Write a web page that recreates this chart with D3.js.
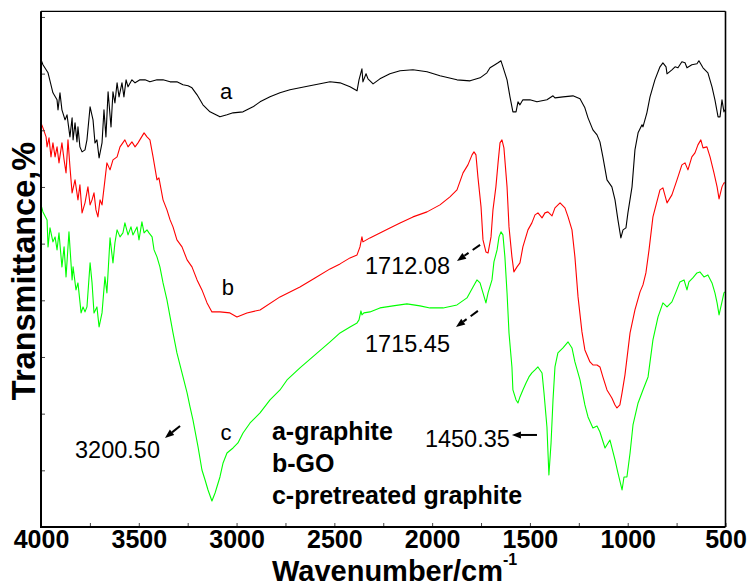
<!DOCTYPE html>
<html lang="en">
<head>
<meta charset="UTF-8">
<title>FTIR spectra</title>
<script src="https://d3js.org/d3.v7.min.js"></script>
<style>
  body { margin: 0; background: #fff; }
  svg { display: block; font-family: "Liberation Sans", Arial, sans-serif; }
</style>
</head>
<body>
<svg id="chart" width="749" height="583"></svg>
<script>
// [wavenumber (cm-1), transmittance (a.u.)]
const graphite = [
  [4000,93.4],[3990,92.4],[3964,90.8],[3939,86.8],[3918,85.4],[3913,83.4],[3903,86.8],[3893,83.4],
  [3877,81.4],[3867,82.4],[3852,78.0],[3841,81.8],[3836,77.4],[3826,80.8],[3816,77.0],[3811,80.0],
  [3801,76.0],[3790,75.0],[3775,75.4],[3765,77.4],[3749,84.0],[3734,81.4],[3724,76.8],[3714,77.4],
  [3703,73.8],[3688,76.8],[3678,83.4],[3668,78.0],[3657,87.0],[3642,80.0],[3632,87.0],[3622,84.8],
  [3611,88.8],[3601,86.0],[3586,88.8],[3576,86.0],[3565,89.4],[3555,88.0],[3535,89.4],[3519,88.8],
  [3494,89.4],[3468,89.4],[3443,89.0],[3407,89.4],[3376,89.4],[3340,89.0],[3305,89.0],[3274,88.4],
  [3248,88.2],[3228,87.8],[3202,86.4],[3172,84.4],[3136,83.0],[3085,82.0],[3049,82.4],[3018,82.8],
  [2967,83.0],[2916,84.0],[2880,85.0],[2829,86.0],[2778,86.8],[2727,87.4],[2676,87.8],[2625,88.2],
  [2573,88.6],[2522,89.0],[2471,88.8],[2420,88.0],[2384,87.2],[2374,89.4],[2359,91.6],[2354,89.0],
  [2338,90.6],[2328,89.6],[2302,88.6],[2267,89.6],[2216,90.6],[2164,91.2],[2098,91.4],[2026,91.0],
  [1960,90.2],[1873,89.4],[1806,89.2],[1755,89.8],[1720,90.8],[1704,91.8],[1679,92.4],[1663,92.8],
  [1648,93.2],[1638,92.0],[1617,89.4],[1602,86.0],[1587,83.0],[1571,83.0],[1561,85.0],[1551,84.4],
  [1536,85.4],[1500,85.4],[1464,85.0],[1413,85.4],[1382,86.2],[1372,85.8],[1331,86.0],[1280,86.2],
  [1244,85.6],[1219,83.8],[1203,81.8],[1178,79.4],[1157,78.4],[1142,77.0],[1127,74.0],[1106,69.4],
  [1081,68.0],[1065,65.4],[1050,61.4],[1035,57.8],[1024,59.4],[1009,59.8],[999,62.8],[978,68.0],
  [963,75.4],[947,78.8],[927,80.4],[922,80.0],[902,82.8],[886,86.0],[861,89.4],[835,92.0],
  [820,92.8],[804,92.0],[799,90.6],[774,91.4],[758,92.0],[743,91.8],[723,93.0],[707,92.8],
  [697,91.8],[672,92.4],[646,92.6],[636,93.2],[615,91.8],[590,90.8],[569,88.0],[554,85.4],
  [538,82.0],[528,82.0],[518,85.4],[508,83.0],[503,83.4]
];

const grapheneOxide = [
  [4000,80.8],[3990,79.8],[3974,78.0],[3969,76.0],[3959,77.8],[3949,74.0],[3939,76.8],[3928,74.0],
  [3918,76.0],[3908,72.8],[3893,76.8],[3882,73.4],[3872,70.8],[3862,77.4],[3852,72.0],[3841,66.8],
  [3826,69.4],[3811,65.4],[3801,68.4],[3790,62.8],[3775,64.8],[3760,68.0],[3749,64.4],[3739,65.4],
  [3729,66.8],[3719,63.4],[3709,62.0],[3698,65.4],[3688,64.4],[3673,69.4],[3663,72.8],[3647,71.4],
  [3632,73.4],[3611,74.0],[3596,76.0],[3571,77.4],[3555,76.0],[3535,77.0],[3519,76.0],[3504,76.8],
  [3473,78.8],[3458,78.0],[3443,77.4],[3427,74.0],[3407,69.4],[3397,69.8],[3376,65.4],[3356,63.4],
  [3340,61.4],[3325,60.0],[3305,57.4],[3279,56.0],[3253,53.4],[3228,52.0],[3202,49.4],[3177,47.4],
  [3151,44.8],[3126,43.0],[3085,43.0],[3034,42.8],[2998,42.0],[2947,42.8],[2880,43.4],[2778,46.0],
  [2676,48.0],[2599,49.8],[2522,51.6],[2471,52.6],[2420,53.8],[2384,54.4],[2369,56.0],[2359,58.0],
  [2354,57.0],[2318,57.8],[2267,58.8],[2216,59.8],[2164,60.8],[2098,62.0],[2026,63.0],[1960,64.4],
  [1909,66.0],[1873,67.4],[1842,70.8],[1817,72.4],[1796,74.4],[1786,75.0],[1776,74.4],[1766,70.0],
  [1750,64.0],[1740,57.4],[1725,55.0],[1714,54.8],[1699,58.0],[1689,63.4],[1674,68.0],[1663,72.8],
  [1653,76.8],[1643,77.4],[1633,75.8],[1617,68.0],[1607,60.0],[1592,54.0],[1582,51.0],[1566,52.0],
  [1551,52.8],[1536,56.0],[1510,59.4],[1490,60.8],[1474,62.4],[1459,62.8],[1438,61.8],[1423,62.8],
  [1408,63.0],[1387,62.2],[1372,63.8],[1346,64.8],[1321,63.8],[1305,62.0],[1285,59.4],[1270,54.0],
  [1254,46.0],[1234,39.0],[1219,35.4],[1193,33.0],[1178,32.4],[1157,32.4],[1142,32.0],[1127,30.0],
  [1106,27.4],[1081,25.8],[1065,24.4],[1055,23.8],[1040,24.4],[1029,26.8],[1014,30.4],[988,38.8],
  [963,43.4],[937,47.0],[922,48.4],[907,50.8],[891,55.4],[871,62.0],[835,67.4],[820,67.8],
  [799,64.8],[774,66.4],[748,69.4],[723,72.4],[707,72.8],[692,71.4],[672,74.0],[656,74.8],
  [641,76.4],[626,77.4],[615,75.8],[595,76.0],[579,74.0],[559,70.8],[543,68.0],[533,65.6],
  [518,68.0],[508,68.8],[503,68.8]
];

const pretreated = [
  [4000,64.4],[3990,63.0],[3969,61.4],[3964,56.0],[3954,59.8],[3939,57.0],[3928,58.0],[3918,55.4],
  [3908,58.8],[3893,52.0],[3882,56.0],[3872,50.0],[3857,59.0],[3841,49.4],[3836,52.0],[3821,47.4],
  [3811,48.8],[3795,42.8],[3785,44.0],[3775,43.0],[3765,44.0],[3749,52.8],[3739,48.8],[3729,42.8],
  [3714,44.0],[3703,40.0],[3688,42.8],[3673,50.0],[3663,46.8],[3647,57.8],[3632,52.8],[3622,56.8],
  [3611,59.4],[3596,58.0],[3581,58.8],[3571,60.8],[3555,58.4],[3540,60.0],[3530,58.4],[3509,60.0],
  [3499,57.4],[3484,61.0],[3473,58.8],[3458,59.4],[3448,58.8],[3432,58.0],[3422,55.4],[3407,54.0],
  [3392,52.0],[3376,48.8],[3356,45.4],[3340,42.0],[3325,38.8],[3305,34.8],[3279,30.8],[3253,26.8],
  [3238,24.0],[3223,21.4],[3197,16.0],[3177,11.4],[3161,9.4],[3146,7.4],[3126,5.2],[3110,6.8],
  [3085,10.0],[3069,12.8],[3049,14.8],[3018,15.8],[2993,16.8],[2967,18.8],[2931,20.8],[2880,22.8],
  [2829,25.4],[2778,27.4],[2742,29.4],[2676,31.8],[2599,34.4],[2522,37.0],[2471,38.8],[2420,40.0],
  [2384,40.8],[2374,41.4],[2364,43.2],[2359,42.4],[2349,42.8],[2318,43.0],[2267,43.8],[2200,44.2],
  [2129,44.6],[2062,44.2],[2011,43.8],[1944,43.8],[1873,44.4],[1822,45.8],[1791,48.0],[1771,49.4],
  [1755,48.8],[1740,46.8],[1725,44.8],[1714,46.8],[1694,49.4],[1684,53.0],[1668,55.4],[1658,58.0],
  [1648,59.0],[1638,58.4],[1628,54.0],[1617,46.8],[1607,38.8],[1592,32.0],[1587,27.4],[1571,25.4],
  [1561,24.8],[1551,26.0],[1536,27.4],[1520,28.8],[1505,30.0],[1490,30.8],[1474,31.4],[1459,32.0],
  [1438,30.8],[1428,26.8],[1413,20.0],[1403,10.4],[1392,16.8],[1382,25.4],[1372,32.0],[1357,34.8],
  [1331,35.8],[1305,37.0],[1285,35.8],[1270,33.0],[1244,29.4],[1219,24.4],[1203,22.0],[1178,19.8],
  [1157,20.2],[1142,19.0],[1116,15.8],[1091,17.4],[1065,13.4],[1050,10.8],[1029,7.4],[1019,10.0],
  [1004,10.0],[988,14.8],[973,20.4],[947,24.8],[922,27.4],[896,30.0],[871,37.4],[845,42.0],
  [820,44.8],[799,44.0],[774,45.0],[753,47.0],[733,49.0],[712,49.4],[697,47.4],[687,49.0],
  [667,49.8],[646,50.8],[631,51.0],[610,50.0],[590,50.4],[569,48.8],[554,46.8],[543,44.8],
  [533,42.4],[518,45.0],[508,46.8],[503,47.0]
];

const xTickValues = d3.range(500, 4001, 250);
const yTickValues = d3.range(1, 10).map(i => i * 11.33);

const curveLabels = [
  { text: "a", w: 3054, v: 85.6 },
  { text: "b", w: 3044, v: 46.4 },
  { text: "c", w: 3054, v: 17.4 }
];
const peakLabels = [
  { text: "3200.50", w: 3826, v: 13.8 },
  { text: "1712.08", w: 2343, v: 50.6 },
  { text: "1715.45", w: 2343, v: 35.0 },
  { text: "1450.35", w: 2037, v: 16.0 }
];
// tail -> head
const arrows = [
  { from: [3289, 20.2], to: [3366, 17.8], dashed: false },
  { from: [1755, 56.4], to: [1873, 53.2], dashed: true },
  { from: [1766, 43.2], to: [1878, 40.0], dashed: true },
  { from: [1464, 18.4], to: [1592, 18.4], dashed: false }
];
const legendItems = ["a-graphite", "b-GO", "c-pretreated graphite"];

const margin = { top: 11.3, right: 23.5, bottom: 56, left: 41 };
const W = 749, H = 583;
const svg = d3.select("#chart");

const x = d3.scaleLinear().domain([4000, 500]).range([margin.left, W - margin.right]);
const y = d3.scaleLinear().domain([0, 103.1]).range([H - margin.bottom, margin.top]);

const series = [
  { data: graphite, color: "#000000" },
  { data: grapheneOxide, color: "#ff0000" },
  { data: pretreated, color: "#00ff00" }
];

const line = d3.line().x(d => x(d[0])).y(d => y(d[1]));

svg.selectAll("path.spectrum")
  .data(series)
  .join("path")
  .attr("class", "spectrum")
  .attr("d", d => line(d.data))
  .attr("fill", "none")
  .attr("stroke", d => d.color)
  .attr("stroke-width", 1.1)
  .attr("stroke-linejoin", "round");

// axes
const xAxis = svg.append("g")
  .attr("transform", `translate(0,${H - margin.bottom})`)
  .call(d3.axisBottom(x).tickValues(xTickValues).tickSize(-4).tickSizeOuter(0)
    .tickFormat(d => d % 500 === 0 ? d : ""));
xAxis.select(".domain").remove();
xAxis.selectAll("line").attr("stroke", "#444");
xAxis.selectAll("text")
  .attr("font-size", 25).attr("font-weight", "bold").attr("fill", "#000")
  .attr("font-family", "Liberation Sans, Arial, sans-serif");

const yAxis = svg.append("g")
  .attr("transform", `translate(${margin.left},0)`)
  .call(d3.axisLeft(y).tickValues(yTickValues).tickSize(-4).tickSizeOuter(0).tickFormat(""));
yAxis.select(".domain").remove();
yAxis.selectAll("line").attr("stroke", "#444");

// frame
const x0 = margin.left, x1 = W - margin.right, y0 = margin.top, y1 = H - margin.bottom;
svg.append("line").attr("x1", x0).attr("x2", x1).attr("y1", y0).attr("y2", y0)
  .attr("stroke", "#000").attr("stroke-width", 1.2);
svg.append("line").attr("x1", x1).attr("x2", x1).attr("y1", y0).attr("y2", y1)
  .attr("stroke", "#000").attr("stroke-width", 1.6);
svg.append("line").attr("x1", x0).attr("x2", x0).attr("y1", y0).attr("y2", y1 + 1)
  .attr("stroke", "#000").attr("stroke-width", 2);
svg.append("line").attr("x1", x0 - 1).attr("x2", x1).attr("y1", y1).attr("y2", y1)
  .attr("stroke", "#000").attr("stroke-width", 2);

// axis titles
const xt = svg.append("text")
  .attr("x", 272).attr("y", 581)
  .attr("font-size", 29).attr("font-weight", "bold");
xt.append("tspan").text("Wavenumber/cm");
xt.append("tspan").attr("font-size", 16).attr("dy", -16).text("-1");

svg.append("text")
  .attr("transform", "translate(35,271) rotate(-90)")
  .attr("text-anchor", "middle")
  .attr("font-size", 32.5).attr("font-weight", "bold")
  .text("Transmittance,%");

// annotations
svg.selectAll("text.curve")
  .data(curveLabels)
  .join("text")
  .attr("class", "curve")
  .attr("x", d => x(d.w)).attr("y", d => y(d.v))
  .attr("text-anchor", "middle")
  .attr("font-size", 22)
  .text(d => d.text);

svg.selectAll("text.peak")
  .data(peakLabels)
  .join("text")
  .attr("class", "peak")
  .attr("x", d => x(d.w)).attr("y", d => y(d.v))
  .attr("font-size", 23.5)
  .text(d => d.text);

arrows.forEach(a => {
  const tx = x(a.from[0]), ty = y(a.from[1]);
  const hx = x(a.to[0]), hy = y(a.to[1]);
  const ang = Math.atan2(hy - ty, hx - tx);
  const len = 9, half = 3.5;
  const bx = hx - len * Math.cos(ang), by = hy - len * Math.sin(ang);
  svg.append("line")
    .attr("x1", tx).attr("y1", ty).attr("x2", bx).attr("y2", by)
    .attr("stroke", "#000").attr("stroke-width", 2)
    .attr("stroke-dasharray", a.dashed ? "9,5" : null);
  const px = -Math.sin(ang) * half, py = Math.cos(ang) * half;
  svg.append("path")
    .attr("d", `M${hx},${hy}L${bx + px},${by + py}L${bx - px},${by - py}Z`)
    .attr("fill", "#000");
});

svg.selectAll("text.legend")
  .data(legendItems)
  .join("text")
  .attr("class", "legend")
  .attr("x", x(2819))
  .attr("y", (d, i) => y(17.4) + i * 32)
  .attr("font-size", 25)
  .attr("font-weight", "bold")
  .text(d => d);
</script>
</body>
</html>
